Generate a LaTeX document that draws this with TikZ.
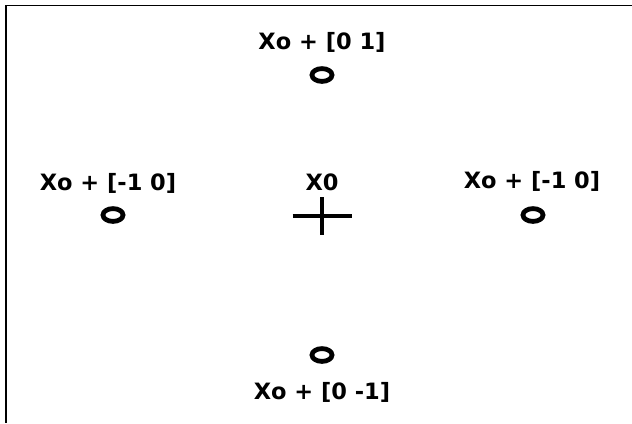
\documentclass[tikz,border=0pt]{standalone}
\usepackage{fontspec}
\setmainfont{DejaVu Sans}
\usetikzlibrary{shapes.geometric}

\tikzset{
  lbl/.style={font=\bfseries\fontsize{16}{18}\selectfont, inner sep=0pt},
  probe/.style={ellipse, draw, line width=3.4pt, minimum width=0.5cm, minimum height=0.32cm, inner sep=0pt},
}

\begin{document}
\begin{tikzpicture}[x=0.025cm, y=-0.025cm]
\useasboundingbox (0,0) rectangle (632,423);

% frame
\draw[line width=1pt] (5,5.5) -- (632,5.5);
\draw[line width=1.6pt] (6,5) -- (6,423);

% centre point
\node[lbl] (x0lbl) at (322,182) {X0};
\coordinate (x0) at (322,216);
\draw[line width=2.8pt] (x0) ++(-29.5,0) -- ++(59,0);
\draw[line width=2.8pt] (x0) ++(0,-19) -- ++(0,38);

% neighbours
\node[lbl] (uplbl) at (322,42) {Xo + [0 1]};
\node[probe] (up) at (322,75) {};

\node[lbl] (leftlbl) at (108,183) {Xo + [-1 0]};
\node[probe] (left) at (113,215) {};

\node[lbl] (rightlbl) at (532,181) {Xo + [-1 0]};
\node[probe] (right) at (533,215) {};

\node[probe] (down) at (322,355) {};
\node[lbl] (downlbl) at (322,392) {Xo + [0 -1]};

\end{tikzpicture}
\end{document}
